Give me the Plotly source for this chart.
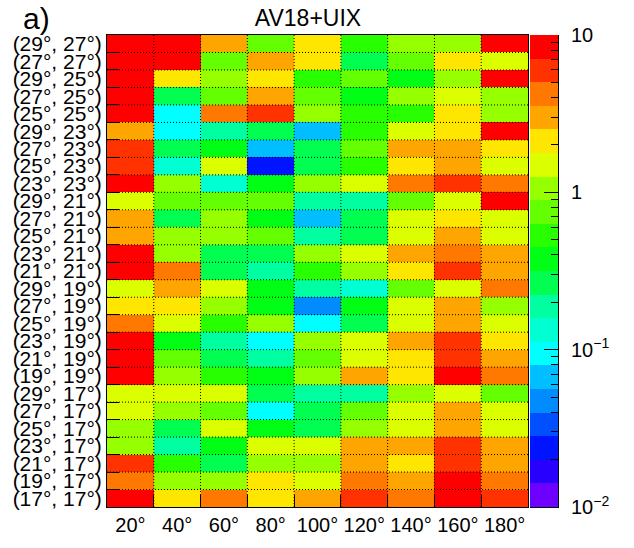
import numpy as np
import plotly.graph_objects as go

row_labels = ["(29°, 27°)", "(27°, 27°)", "(29°, 25°)", "(27°, 25°)", "(25°, 25°)",
              "(29°, 23°)", "(27°, 23°)", "(25°, 23°)", "(23°, 23°)",
              "(29°, 21°)", "(27°, 21°)", "(25°, 21°)", "(23°, 21°)", "(21°, 21°)",
              "(29°, 19°)", "(27°, 19°)", "(25°, 19°)", "(23°, 19°)", "(21°, 19°)", "(19°, 19°)",
              "(29°, 17°)", "(27°, 17°)", "(25°, 17°)", "(23°, 17°)", "(21°, 17°)", "(19°, 17°)", "(17°, 17°)"]
col_labels = ["20°", "40°", "60°", "80°", "100°", "120°", "140°", "160°", "180°"]

# values per column (top row first)
v20 = [8.4, 8.4, 8.4, 8.4, 8.4, 3.0, 6.0, 6.0, 8.4, 1.5, 3.0, 3.0, 8.4, 8.4, 1.5, 2.1, 4.2, 8.4, 8.4, 8.4, 1.5, 1.5, 1.06, 1.06, 6.0, 4.2, 8.4]
v40 = [8.4, 8.4, 2.1, 0.27, 0.094, 0.094, 0.27, 0.13, 1.06, 0.75, 0.27, 1.06, 1.06, 4.2, 3.0, 2.1, 1.5, 0.38, 0.75, 1.06, 1.5, 1.06, 0.27, 0.19, 0.53, 1.06, 2.1]
v60 = [3.0, 0.75, 1.06, 0.75, 4.2, 0.19, 0.38, 1.5, 0.13, 0.75, 1.06, 1.06, 0.27, 0.27, 1.5, 1.06, 0.53, 0.19, 0.27, 0.53, 1.5, 0.75, 1.5, 0.38, 0.27, 1.06, 4.2]
v80 = [0.75, 3.0, 2.1, 3.0, 6.0, 0.27, 0.067, 0.024, 0.38, 0.75, 0.38, 0.75, 0.27, 0.19, 0.38, 0.38, 1.06, 0.094, 0.19, 0.38, 0.27, 0.094, 0.38, 1.5, 1.06, 2.1, 2.1]
v100 = [2.1, 2.1, 0.53, 0.75, 1.06, 0.067, 0.27, 0.27, 1.06, 0.19, 0.067, 0.19, 1.06, 0.53, 0.19, 0.047, 0.094, 1.06, 0.75, 1.06, 0.19, 0.27, 0.27, 1.5, 1.06, 1.5, 3.0]
v120 = [0.53, 0.27, 0.75, 0.38, 0.53, 0.53, 0.75, 0.53, 1.5, 0.19, 0.27, 0.27, 1.5, 1.06, 0.13, 0.38, 0.27, 1.5, 1.5, 3.0, 0.19, 0.75, 1.06, 3.0, 3.0, 4.2, 6.0]
v140 = [1.06, 0.75, 0.38, 1.06, 0.53, 1.5, 3.0, 2.1, 4.2, 0.75, 1.5, 1.5, 3.0, 2.1, 0.75, 1.5, 1.5, 3.0, 2.1, 2.1, 1.06, 1.5, 1.5, 3.0, 2.1, 3.0, 4.2]
v160 = [1.06, 2.1, 1.06, 1.5, 2.1, 2.1, 3.0, 3.0, 6.0, 1.5, 2.1, 3.0, 4.2, 6.0, 1.5, 3.0, 3.0, 6.0, 6.0, 8.4, 1.5, 3.0, 3.0, 6.0, 6.0, 8.4, 8.4]
v180 = [8.4, 1.5, 8.4, 1.06, 1.06, 8.4, 2.1, 1.5, 4.2, 8.4, 1.5, 1.5, 3.0, 3.0, 4.2, 1.06, 1.5, 2.1, 3.0, 4.2, 0.75, 1.5, 1.5, 3.0, 3.0, 4.2, 6.0]

# colour scale: log10 range and its discrete bands
zlog_min, zlog_max = -2, 1
band_colors = ["#6e00ff", "#2800ff", "#0014ff", "#0050ff", "#008cff", "#00beff", "#00ffff",
               "#00ffd2", "#00ffa0", "#00ff50", "#00ff14", "#28ff00", "#64ff00", "#96ff00",
               "#dcff00", "#ffe600", "#ffa500", "#ff7800", "#ff3200", "#ff0000"]
cbar_ticktext = ["10<sup>−2</sup>", "10<sup>−1</sup>", "1", "10"]

columns = [v20, v40, v60, v80, v100, v120, v140, v160, v180]
z = np.array(columns).T  # rows x cols
zlog = np.log10(z)

nb = len(band_colors)
cscale = []
for i, c in enumerate(band_colors):
    cscale.append([i / nb, c])
    cscale.append([(i + 1) / nb, c])

FONT = "Liberation Sans, Arial, sans-serif"
nx, ny = len(col_labels), len(row_labels)

# pixel layout
W, H = 634, 548
L, R_plot, CB_L, CB_R = 107, 528, 530, 558
T, B = 35, 510
width_total = CB_R - L
dom_main = [0, (R_plot - L) / width_total]
dom_cb = [(CB_L - L) / width_total, 1]

fig = go.Figure()
fig.add_trace(go.Heatmap(
    z=zlog, x=list(range(nx)), y=list(range(ny)),
    zmin=zlog_min, zmax=zlog_max, colorscale=cscale, showscale=False,
    customdata=z, hovertemplate="%{customdata}<extra></extra>",
    xaxis="x", yaxis="y",
))

# colour bar drawn as a heatmap on its own axis (log10 values on a linear axis)
edges = np.linspace(zlog_min, zlog_max, nb + 1)
centers = (edges[:-1] + edges[1:]) / 2
fig.add_trace(go.Heatmap(
    z=[[c] for c in centers], x=[0, 1], y=edges,
    zmin=zlog_min, zmax=zlog_max, colorscale=cscale, showscale=False,
    hoverinfo="skip", xaxis="x2", yaxis="y2",
))

decades = list(range(zlog_min, zlog_max + 1))
minor_vals = [d + np.log10(m) for d in decades[:-1] for m in range(2, 10)]

shapes = []
for i in range(nx - 1):
    shapes.append(dict(type="line", xref="x", yref="y", x0=i + 0.5, x1=i + 0.5,
                       y0=-0.5, y1=ny - 0.5, layer="above",
                       line=dict(color="black", width=1, dash="1px,2px")))
for j in range(ny - 1):
    shapes.append(dict(type="line", xref="x", yref="y", x0=-0.5, x1=nx - 0.5,
                       y0=j + 0.5, y1=j + 0.5, layer="above",
                       line=dict(color="black", width=1, dash="1px,2px")))

fig.update_layout(
    width=W, height=H,
    margin=dict(l=L, r=W - CB_R, t=T, b=H - B),
    paper_bgcolor="white", plot_bgcolor="white",
    font=dict(family=FONT, color="black", size=20),
    shapes=shapes,
    title=dict(text="AV18+UIX", x=308 / W, xanchor="center", y=1 - 18 / H,
               yanchor="middle", font=dict(size=23, family=FONT, color="black")),
    annotations=[dict(text="a)", xref="paper", yref="paper", x=(21 - L) / width_total,
                      y=1 + (T - 18) / (B - T),
                      xanchor="left", yanchor="middle", showarrow=False,
                      font=dict(size=30, family=FONT, color="black"))],
    xaxis=dict(domain=dom_main, range=[-0.5, nx - 0.5], tickmode="array", tickvals=list(range(nx)),
               ticktext=col_labels, ticks="", showgrid=False, zeroline=False,
               showline=True, mirror=True, linecolor="black", linewidth=1,
               layer="above traces", tickfont=dict(size=20),
               minor=dict(tickmode="array", tickvals=[i + 0.5 for i in range(nx - 1)],
                          ticks="inside", ticklen=12, tickcolor="black", showgrid=False)),
    yaxis=dict(range=[ny - 0.5, -0.5], tickmode="array", tickvals=list(range(ny)),
               ticktext=row_labels, ticks="", showgrid=False, zeroline=False,
               showline=True, mirror=True, linecolor="black", linewidth=1,
               layer="above traces", tickfont=dict(size=21),
               minor=dict(tickmode="array", tickvals=[j + 0.5 for j in range(ny - 1)],
                          ticks="inside", ticklen=12, tickcolor="black", showgrid=False)),
    xaxis2=dict(domain=dom_cb, range=[0, 1], anchor="y2", showticklabels=False, ticks="",
                showgrid=False, zeroline=False, showline=True, linecolor="black",
                linewidth=1, layer="above traces"),
    yaxis2=dict(domain=[0, 1], anchor="x2", side="right", range=[zlog_min, zlog_max],
                tickmode="array", tickvals=decades, ticktext=cbar_ticktext,
                ticks="inside", ticklen=14, tickcolor="black", tickwidth=1,
                showgrid=False, zeroline=False, showline=True, linecolor="black",
                linewidth=1, layer="above traces", ticklabelstandoff=8,
                tickfont=dict(size=20),
                minor=dict(tickmode="array", tickvals=minor_vals, ticks="inside",
                           ticklen=7, tickcolor="black", showgrid=False)),
)

fig.write_html("out.html")
